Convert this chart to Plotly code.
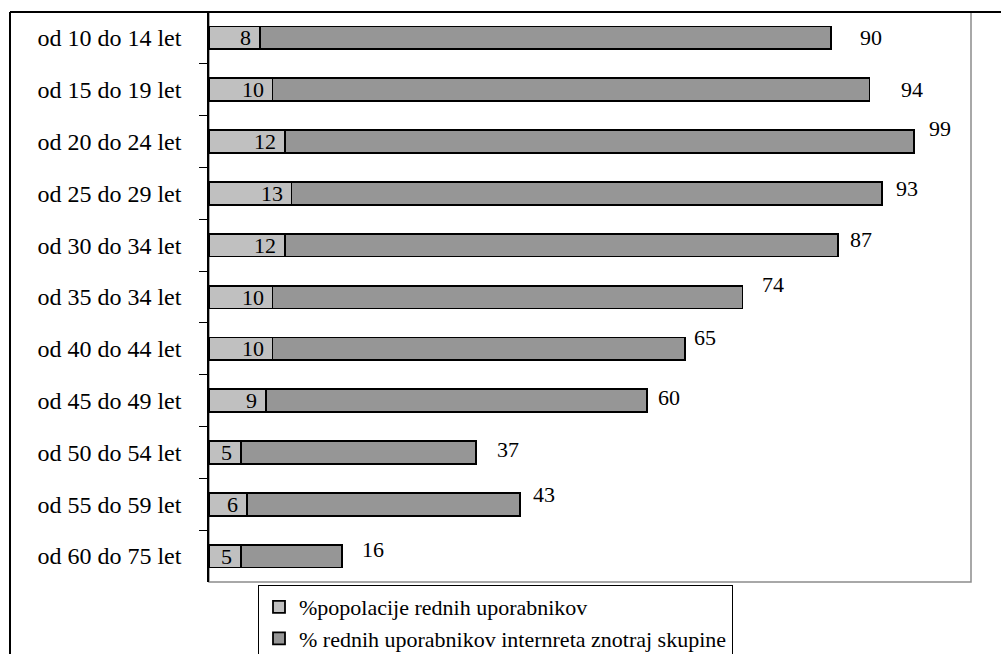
import plotly.graph_objects as go

# Age groups (top to bottom) and the two stacked shares
age_groups = [
    "od 10 do 14 let", "od 15 do 19 let", "od 20 do 24 let", "od 25 do 29 let",
    "od 30 do 34 let", "od 35 do 34 let", "od 40 do 44 let", "od 45 do 49 let",
    "od 50 do 54 let", "od 55 do 59 let", "od 60 do 75 let",
]
share_population = [8, 10, 12, 13, 12, 10, 10, 9, 5, 6, 5]
share_in_group = [90, 94, 99, 93, 87, 74, 65, 60, 37, 43, 16]

series_names = [
    "%popolacije rednih uporabnikov",
    "% rednih uporabnikov internreta znotraj skupine",
]

# Placement tweaks for the outer value labels (pixels: right, up)
outer_label_dx = [27, 30, 13, 12, 10, 18, 7, 9, 19, 11, 18]
outer_label_dy = [0, 0, 13, 5, 6, 13, 11, 3, 3, 10, 7]

FONT = "'Liberation Serif', 'Times New Roman', serif"
LIGHT = "#c0c0c0"
DARK = "#969696"

W, H = 1001, 654
M_L, M_R, M_T, M_B = 209, 30, 12, 72
plot_w = W - M_L - M_R
plot_h = H - M_T - M_B

fig = go.Figure()
fig.add_trace(go.Bar(
    y=age_groups, x=share_population, orientation="h", name=series_names[0],
    marker=dict(color=LIGHT, line=dict(color="black", width=1.8)),
))
fig.add_trace(go.Bar(
    y=age_groups, x=share_in_group, orientation="h", name=series_names[1],
    marker=dict(color=DARK, line=dict(color="black", width=1.8)),
))

annotations = []
for cat, a, b, dx, dy in zip(age_groups, share_population, share_in_group,
                             outer_label_dx, outer_label_dy):
    annotations.append(dict(
        x=a, y=cat, xref="x", yref="y", text=str(a), showarrow=False,
        xanchor="right", xshift=-7, font=dict(family=FONT, size=22, color="black"),
    ))
    annotations.append(dict(
        x=a + b, y=cat, xref="x", yref="y", text=str(b), showarrow=False,
        xanchor="left", xshift=dx, yshift=dy,
        font=dict(family=FONT, size=22, color="black"),
    ))

frame_left = (10 - M_L) / plot_w
frame_right = (W + 5 - M_L) / plot_w
frame_bottom = -(H + 5 - (H - M_B)) / plot_h

shapes = [
    # plot area border (grey on right/bottom)
    dict(type="rect", xref="paper", yref="paper", x0=0, x1=1, y0=0, y1=1,
         line=dict(color="#8c8c8c", width=1.5), layer="below"),
    # outer chart frame
    dict(type="line", xref="paper", yref="paper", x0=frame_left, x1=frame_right,
         y0=1, y1=1, line=dict(color="black", width=2)),
    dict(type="line", xref="paper", yref="paper", x0=frame_left, x1=frame_left,
         y0=1, y1=frame_bottom, line=dict(color="black", width=2)),
]

fig.update_layout(
    width=W, height=H,
    margin=dict(l=M_L, r=M_R, t=M_T, b=M_B, autoexpand=False),
    barmode="stack", bargap=0.56,
    paper_bgcolor="white", plot_bgcolor="white",
    font=dict(family=FONT, size=22, color="black"),
    xaxis=dict(range=[0, 120], visible=False, fixedrange=True),
    yaxis=dict(
        categoryorder="array", categoryarray=age_groups, autorange="reversed",
        showline=True, linecolor="black", linewidth=1.5,
        ticks="outside", ticklen=8, tickcolor="black", tickwidth=1,
        tickson="boundaries", ticklabelstandoff=21,
        tickfont=dict(family=FONT, size=24, color="black"),
        showgrid=False, zeroline=False,
    ),
    legend=dict(
        orientation="v", x=(258 - M_L) / plot_w, xanchor="left",
        y=-(585 - (H - M_B)) / plot_h, yanchor="top",
        bgcolor="white", bordercolor="black", borderwidth=1,
        font=dict(family=FONT, size=22, color="black"),
        traceorder="normal", tracegroupgap=0,
    ),
    annotations=annotations,
    shapes=shapes,
)

fig.write_html("out.html")
